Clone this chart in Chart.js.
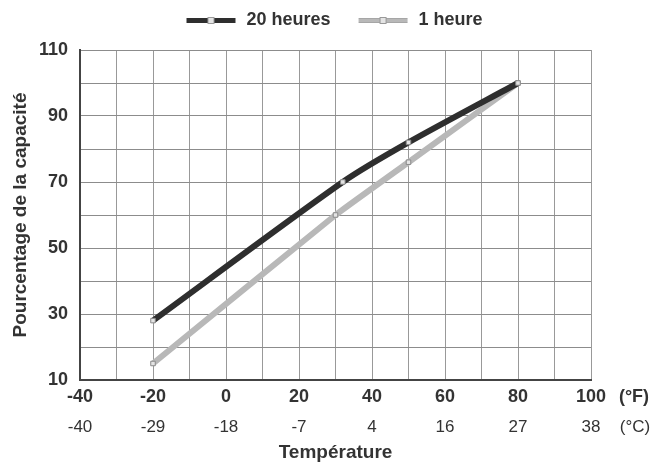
<!DOCTYPE html>
<html><head><meta charset="utf-8">
<script src="https://cdn.jsdelivr.net/npm/chart.js@4.4.1/dist/chart.umd.min.js"></script>
<style>html,body{margin:0;padding:0;background:#fff}#wrap{width:653px;height:462px;position:relative}</style>
</head><body><div id="wrap"><canvas id="c" width="653" height="462"></canvas></div>
<script>
const seriesNames = ['20 heures', '1 heure'];
const temps20h = [-20, 32, 50, 80];
const capacity20h = [28, 70, 82, 100];
const temps1h = [-20, 30, 50, 80];
const capacity1h = [15, 60, 76, 100];
const fahrenheitTicks = [-40, -20, 0, 20, 40, 60, 80, 100];
const celsiusTicks = ['-40', '-29', '-18', '-7', '4', '16', '27', '38'];
const yTicks = [10, 30, 50, 70, 90, 110];

const FONT = "'Liberation Sans', Arial, sans-serif";
const DARK = '#2e2e2e', LIGHT = '#b8b8b8';

function legendImg(color, edge) {
  const cv = document.createElement('canvas');
  cv.width = 69; cv.height = 10;
  const g = cv.getContext('2d');
  g.fillStyle = edge; g.fillRect(18, 3, 49, 5);
  g.fillStyle = color; g.fillRect(18, 4, 49, 3);
  g.fillStyle = '#e4e4e4'; g.strokeStyle = '#999'; g.lineWidth = 1;
  g.fillRect(39.5, 2.5, 6, 6); g.strokeRect(39.5, 2.5, 6, 6);
  return cv;
}
const legendImgs = [legendImg(DARK, DARK), legendImg(LIGHT, '#a6a6a6')];

const toPts = (xs, ys) => xs.map((x, i) => ({x, y: ys[i]}));

const unitPlugin = {
  id: 'units',
  beforeLayout(chart) {
    const l = chart.legend;
    if (l && !l._patched) {
      const orig = l.fit;
      l.fit = function () { orig.call(this); this.height += 11; };
      l._patched = true;
    }
  },
  afterLayout(chart) {
    const l = chart.legend;
    if (l) { l.left += 30; l.right += 30; }
  },
  afterDraw(chart) {
    const {ctx} = chart;
    const xs = chart.scales.x;
    ctx.save();
    ctx.textAlign = 'center'; ctx.textBaseline = 'middle';
    ctx.fillStyle = '#333';
    ctx.font = "bold 18px " + FONT;
    ctx.fillText('(°F)', xs.right + 43, 397);
    ctx.font = "17px " + FONT;
    ctx.fillText('(°C)', xs.right + 44, 427);
    ctx.restore();
  }
};

new Chart(document.getElementById('c'), {
  type: 'line',
  data: {
    datasets: [
      {label: seriesNames[0], data: toPts(temps20h, capacity20h), borderColor: DARK, borderWidth: 6, tension: 0.25,
       pointStyle: 'rect', pointRadius: 3.2, pointBackgroundColor: '#e4e4e4', pointBorderColor: '#8a8a8a', pointBorderWidth: 1},
      {label: seriesNames[1], data: toPts(temps1h, capacity1h), borderColor: LIGHT, borderWidth: 6, tension: 0.1,
       pointStyle: 'rect', pointRadius: 3.2, pointBackgroundColor: '#e4e4e4', pointBorderColor: '#8a8a8a', pointBorderWidth: 1}
    ]
  },
  options: {
    responsive: false, animation: false, devicePixelRatio: 1,
    layout: {padding: {left: 0, right: 62, top: 1, bottom: 0}},
    plugins: {
      tooltip: {enabled: false},
      legend: {
        position: 'top',
        labels: {
          usePointStyle: true, pointStyleWidth: 69, boxHeight: 10, padding: 10,
          color: '#333', font: {family: FONT, size: 18, weight: 'bold'},
          generateLabels(chart) {
            return chart.data.datasets.map((d, i) => ({text: d.label, pointStyle: legendImgs[i], datasetIndex: i, fontColor: '#333', lineWidth: 0, strokeStyle: 'transparent', fillStyle: 'transparent'}));
          }
        }
      }
    },
    scales: {
      x: {
        type: 'linear', position: 'bottom', min: -40, max: 100,
        afterBuildTicks(s) { s.ticks = []; for (let v = -40; v <= 100; v += 10) s.ticks.push({value: v}); },
        ticks: {padding: 6, color: '#333', font: {family: FONT, size: 18, weight: 'bold'}, maxRotation: 0, autoSkip: false,
          callback: v => fahrenheitTicks.includes(v) ? String(v) : ''},
        grid: {color: '#999', lineWidth: 1, drawTicks: false},
        border: {color: '#444', width: 2},
        afterFit(s) { s.height = 32; }
      },
      xc: {
        type: 'linear', position: 'bottom', min: -40, max: 100,
        afterBuildTicks(s) { s.ticks = fahrenheitTicks.map(v => ({value: v})); },
        ticks: {padding: 5, color: '#333', font: {family: FONT, size: 17}, maxRotation: 0, autoSkip: false,
          callback: (v) => celsiusTicks[fahrenheitTicks.indexOf(v)] ?? ''},
        grid: {display: false, drawTicks: false},
        border: {display: false},
        title: {display: true, text: 'Température', color: '#333', font: {family: FONT, size: 19, weight: 'bold', lineHeight: 1}, padding: {top: 0, bottom: 0}},
        afterFit(s) { s.height = 50; }
      },
      y: {
        min: 10, max: 110,
        afterBuildTicks(s) { s.ticks = []; for (let v = 10; v <= 110; v += 10) s.ticks.push({value: v}); },
        ticks: {padding: 12, color: '#333', font: {family: FONT, size: 18, weight: 'bold'},
          callback: v => yTicks.includes(v) ? String(v) : ''},
        grid: {color: '#8c8c8c', lineWidth: 1, drawTicks: false},
        border: {color: '#444', width: 2},
        title: {display: true, text: 'Pourcentage de la capacité', color: '#333', font: {family: FONT, size: 19, weight: 'bold'}, padding: {top: 9, bottom: 0}},
        afterFit(s) { s.width = 80; }
      }
    }
  },
  plugins: [unitPlugin]
});
</script></body></html>
